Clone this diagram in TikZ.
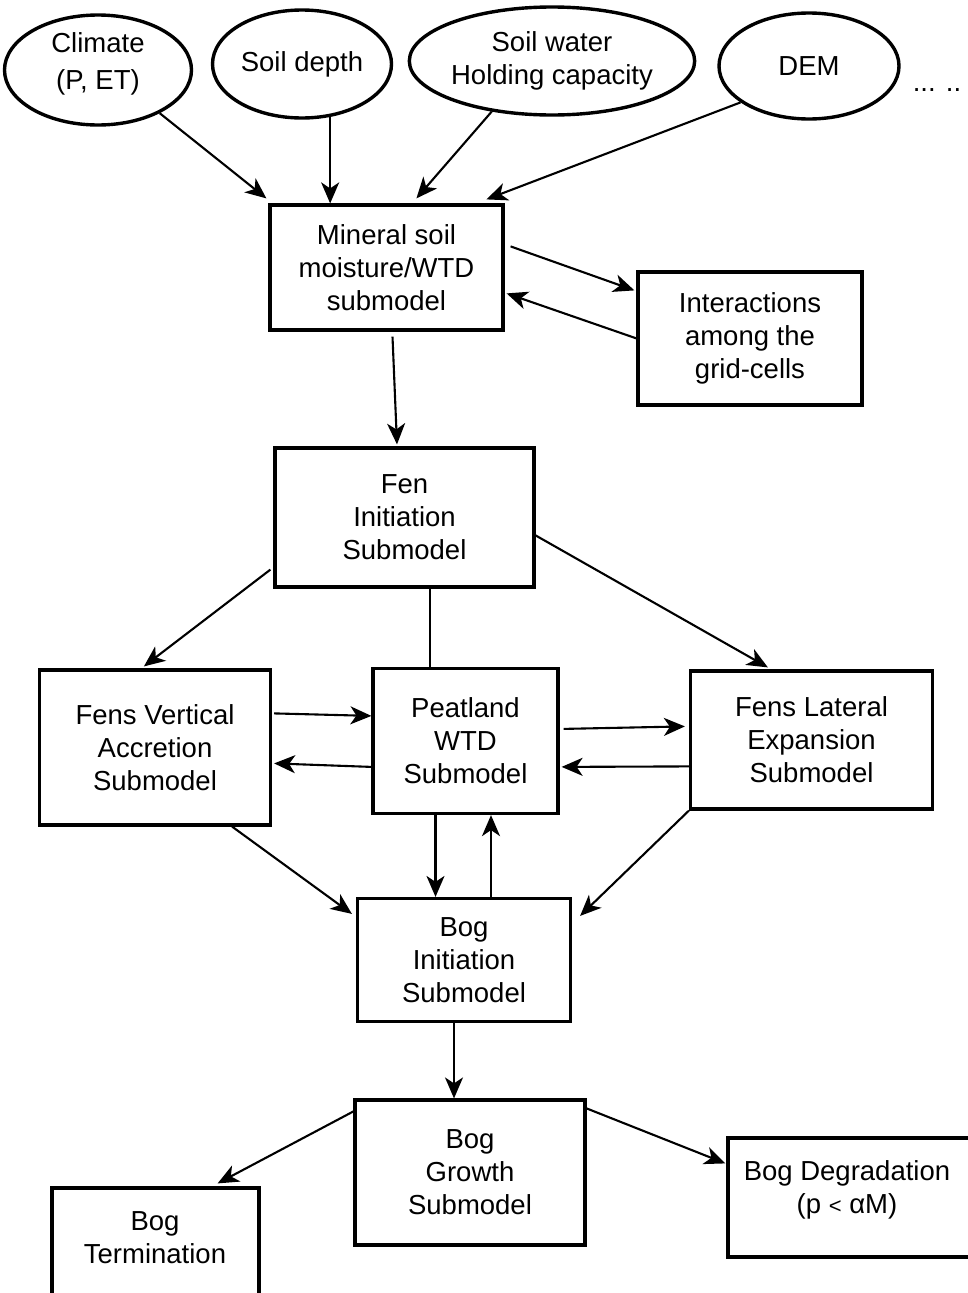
\documentclass[tikz,border=0pt]{standalone}
\usepackage{fontspec}
\setmainfont{Liberation Sans}
\usetikzlibrary{shapes.geometric,arrows.meta}
\tikzset{
  lbl/.style={font=\fontsize{27.5}{33}\selectfont, align=center, inner sep=0pt},
  ell/.style={lbl, ellipse, draw, line width=3.4pt},
  box/.style={lbl, rectangle, draw, line width=3.2pt},
  arr/.style={draw, line width=2.1pt, -{Stealth[length=21pt,width=18pt,inset=6pt]}},
  plain/.style={draw, line width=2.1pt}
}
\begin{document}
\begin{tikzpicture}[x=1pt,y=-1pt]
\useasboundingbox (0,0) rectangle (968,1293);
\clip (0,0) rectangle (968,1293);
\fill[white] (0,0) rectangle (968,1293);

% input ellipses
\node[ell, minimum width=187, minimum height=110] (climate) at (98,70) {};
\node[lbl] (climatetext) at (98,64) {Climate\\[4pt](P, ET)};
\node[ell, minimum width=179, minimum height=108] (depth) at (302,64) {Soil depth};
\node[ell, minimum width=285, minimum height=108] (water) at (552,61) {Soil water\\Holding capacity};
\node[ell, minimum width=180, minimum height=106] (dem) at (809,66) {DEM};
\node[lbl] (dots) at (937,90) {... ..};

% boxes
\node[box, minimum width=233, minimum height=125] (mineral) at (386.5,267.5) {Mineral soil\\moisture/WTD\\submodel};
\node[box, minimum width=224, minimum height=133] (inter) at (750,338.5) {Interactions\\among the\\grid-cells};
\node[box, minimum width=259, minimum height=139] (fen) at (404.5,517.5) {Fen\\Initiation\\Submodel};
\node[box, minimum width=231, minimum height=155] (fv) at (155,747.5) {Fens Vertical\\Accretion\\Submodel};
\node[box, minimum width=185, minimum height=145] (peat) at (465.5,741) {Peatland\\WTD\\Submodel};
\node[box, minimum width=242, minimum height=138] (fl) at (811.5,740) {Fens Lateral\\Expansion\\Submodel};
\node[box, minimum width=213, minimum height=123] (bi) at (464,960) {Bog\\Initiation\\Submodel};
\node[box, minimum width=230, minimum height=145] (bg) at (470,1172.5) {Bog\\Growth\\Submodel};
\node[box, minimum width=207, minimum height=120] (bt) at (155.5,1248) {};
\node[lbl] (bttext) at (155,1238) {Bog\\Termination};
\node[box, minimum width=246, minimum height=119] (bd) at (851,1197.5) {};
\node[lbl] (bdtext) at (847,1190) {Bog Degradation\\(p {\fontsize{22}{33}\selectfont <} αM)};

% inputs to mineral soil submodel
\draw[arr] (climate.-35) -- ([xshift=-2pt,yshift=5pt]mineral.north west);
\draw[arr] (depth.-62) -- (depth.-62 |- mineral.north);
\draw[arr] (water.-140) -- ([xshift=148pt,yshift=5pt]mineral.north west);
\draw[arr] (dem.-152) -- ([xshift=218pt,yshift=4pt]mineral.north west);

% mineral <-> interactions
\draw[arr] ([xshift=6pt,yshift=-43pt]mineral.north east) -- ([xshift=-2pt,yshift=-20pt]inter.north west);
\draw[arr] ([yshift=-68pt]inter.north west) -- ([xshift=2pt,yshift=-90pt]mineral.north east);

% mineral -> fen
\draw[arr] ([xshift=6pt,yshift=-5pt]mineral.south) -- ([xshift=-7.5pt,yshift=2pt]fen.north);

% fen -> level 3
\draw[arr] ([xshift=-3pt,yshift=19pt]fen.south west) -- ([xshift=106pt,yshift=2pt]fv.north west);
\draw[plain] ([xshift=25.5pt]fen.south) -- ([xshift=25.5pt]fen.south |- peat.north);
\draw[arr] ([yshift=-89pt]fen.north east) -- ([xshift=79pt,yshift=2pt]fl.north west);

% level 3 horizontal links
\draw[arr] ([xshift=2pt,yshift=-45pt]fv.north east) -- ([yshift=-49pt]peat.north west);
\draw[arr] ([yshift=-100pt]peat.north west) -- ([xshift=2pt,yshift=-95pt]fv.north east);
\draw[arr] ([xshift=4pt,yshift=-62pt]peat.north east) -- ([xshift=-4pt,yshift=-57pt]fl.north west);
\draw[arr] ([yshift=-97pt]fl.north west) -- ([xshift=2pt,yshift=-100pt]peat.north east);

% level 3 -> bog initiation
\draw[arr] ([xshift=-40pt]fv.south east) -- ([xshift=-4pt,yshift=-17pt]bi.north west);
\draw[arr] ([xshift=-30pt]peat.south) -- ([xshift=-30pt]peat.south |- bi.north);
\draw[arr] ([xshift=27pt]bi.north) -- ([xshift=27pt]bi.north |- peat.south);
\draw[arr] (fl.south west) -- ([xshift=8pt,yshift=-19pt]bi.north east);

% bog initiation -> growth -> outcomes
\draw[arr] ([xshift=-10pt]bi.south) -- ([xshift=-10pt]bi.south |- bg.north);
\draw[arr] ([yshift=-13pt]bg.north west) -- ([xshift=-43pt,yshift=3pt]bt.north east);
\draw[arr] ([yshift=-10pt]bg.north east) -- ([xshift=-1pt,yshift=-27pt]bd.north west);
\end{tikzpicture}
\end{document}
